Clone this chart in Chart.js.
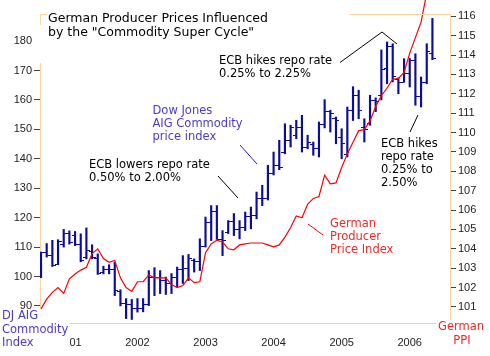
<!DOCTYPE html>
<html><head><meta charset="utf-8">
<script src="https://cdn.jsdelivr.net/npm/chart.js@4"></script>
<style>html,body{margin:0;padding:0;background:#fff}#wrap{width:490px;height:356px}</style>
</head><body><div id="wrap"><canvas id="c" width="490" height="356"></canvas></div>
<script>
// ---- data ----
const months = [
'2000-08','2000-09','2000-10','2000-11','2000-12',
'2001-01','2001-02','2001-03','2001-04','2001-05','2001-06','2001-07','2001-08','2001-09','2001-10','2001-11','2001-12',
'2002-01','2002-02','2002-03','2002-04','2002-05','2002-06','2002-07','2002-08','2002-09','2002-10','2002-11','2002-12',
'2003-01','2003-02','2003-03','2003-04','2003-05','2003-06','2003-07','2003-08','2003-09','2003-10','2003-11','2003-12',
'2004-01','2004-02','2004-03','2004-04','2004-05','2004-06','2004-07','2004-08','2004-09','2004-10','2004-11','2004-12',
'2005-01','2005-02','2005-03','2005-04','2005-05','2005-06','2005-07','2005-08','2005-09','2005-10','2005-11','2005-12',
'2006-01','2006-02','2006-03','2006-04','2006-05'];
const djOpen = [99.6,108.3,107.0,104.0,111.0,114.5,114.0,111.0,106.5,108.5,
106.0,101.5,102.3,102.3,95.0,90.8,90.5,89.0,89.0,90.5,
99.5,99.7,98.5,97.5,99.5,102.5,102.6,105.5,105.2,110.3,
118.5,122.2,112.6,115.0,118.8,116.0,116.8,120.4,120.7,126.4,
126.4,134.9,137.8,142.0,146.3,148.0,150.8,144.0,145.0,143.4,
151.5,155.9,153.6,147.4,141.5,156.5,161.6,150.5,152.0,159.9,
161.6,170.6,178.0,167.0,166.0,169.0,173.5,161.0,166.0,175.7];
const djHigh = [108.3,111.2,112.3,112.5,116.0,115.5,115.3,114.5,116.5,110.8,
107.7,103.5,104.0,104.8,95.5,92.5,92.2,92.5,92.5,102.0,
103.0,102.0,99.8,101.0,103.2,107.1,107.5,106.0,112.8,120.2,
124.1,124.1,115.6,119.0,121.4,119.0,121.9,123.6,128.7,131.0,
137.8,142.3,146.3,151.9,151.4,153.1,154.8,148.0,145.7,152.5,
160.1,156.5,154.2,150.2,157.6,164.5,163.3,153.6,161.6,160.7,
177.0,179.7,179.1,167.5,174.0,174.1,175.7,167.8,179.1,187.7];
const djLow = [99.6,106.6,103.4,104.0,110.0,111.0,110.5,105.0,106.0,106.0,
100.7,100.9,100.9,93.5,90.0,85.7,85.4,87.9,88.0,90.1,
93.5,94.2,93.9,94.2,96.4,97.6,98.6,101.5,102.0,110.0,
112.2,112.6,107.1,114.6,113.9,112.8,115.6,116.2,119.6,124.1,
126.0,134.5,136.3,141.7,144.0,146.8,142.3,143.4,141.2,140.6,
150.5,149.1,145.1,140.0,140.6,153.0,153.6,145.7,151.4,156.0,
160.0,165.5,166.1,162.1,166.0,164.4,158.2,157.6,165.5,173.7];
const djClose = [108.3,107.0,103.8,112.0,114.5,111.5,111.0,105.5,109.0,106.5,
101.0,102.3,102.3,95.2,90.8,90.5,89.0,89.0,90.5,99.5,
99.7,98.5,97.5,99.5,102.5,102.6,106.0,105.2,110.3,118.5,
122.2,112.6,112.2,118.8,116.0,116.8,120.4,120.7,126.4,126.4,
134.9,137.8,137.2,146.3,150.8,150.8,144.0,145.7,143.4,151.5,
155.9,155.5,153.1,145.1,156.5,161.6,156.5,149.9,159.9,159.3,
170.5,178.0,167.8,166.0,169.0,173.5,161.0,166.0,176.3,174.1];
const germanPPI = [100.9,101.4,101.75,102.0,101.7,102.45,102.7,102.9,103.05,103.75,
104.0,103.5,103.3,103.4,102.5,102.0,101.8,102.3,102.3,102.65,
102.5,102.5,102.5,102.15,102.0,102.1,102.5,102.25,102.3,103.8,
104.25,104.45,104.35,104.0,103.95,104.2,104.25,104.3,104.3,104.3,
104.2,104.1,104.2,104.6,105.1,105.7,105.6,106.3,106.6,106.7,
107.8,107.35,107.4,108.2,108.9,109.5,110.1,110.15,110.6,111.35,
111.9,112.3,112.75,112.8,113.1,114.1,114.9,115.7,117.2];
const leftTicks = [90,100,110,120,130,140,150,160,170,180];
const rightTicks = [101,102,103,104,105,106,107,108,109,110,111,112,113,114,115,116];
const yearLabels = ['2001','2002','2003','2004','2005','2006'];

// ---- styles ----
const AX = '#FFD49A';
const BAR = '#0C0C9C';
const RED = '#FF0000';
const BLUE_TXT = '#4A3CC4';
const RED_TXT = '#F02828';
const yearIdx = months.map((m,i)=>m.endsWith('-01')?i:-1).filter(i=>i>=0);

function tickImg(side){
  const c=document.createElement('canvas'); c.width=7; c.height=1;
  const g=c.getContext('2d'); g.fillStyle=BAR; g.fillRect(side==='L'?0:4,0,3,1); return c;
}
const imgL = tickImg('L'), imgR = tickImg('R');

const overlay = {
  id:'overlay',
  afterDraw(chart){
    const ctx=chart.ctx, a=chart.chartArea;
    ctx.save();
    ctx.strokeStyle=AX; ctx.lineWidth=1;
    ctx.beginPath(); ctx.moveTo(a.left, Math.round(a.top)+0.5); ctx.lineTo(a.right, Math.round(a.top)+0.5); ctx.stroke();
    ctx.fillStyle='#fff';
    ctx.fillRect(47,0,303,40);
    ctx.fillRect(33,25,9,38);
    ctx.fillRect(0,309,69.5,47);
    ctx.fillRect(436,320,54,36);
    ctx.textBaseline='middle'; ctx.textAlign='left';
    ctx.fillStyle='#000';
    ctx.font='12.5px "DejaVu Sans"';
    ctx.fillText('German Producer Prices Influenced',48,18.5);
    ctx.fillText('by the "Commodity Super Cycle"',48,33);
    ctx.font='11.5px "DejaVu Sans"';
    ctx.fillText('ECB hikes repo rate',219,61);
    ctx.fillText('0.25% to 2.25%',219,74.5);
    ctx.fillText('ECB lowers repo rate',89,165);
    ctx.fillText('0.50% to 2.00%',89,178.5);
    ['ECB hikes','repo rate','0.25% to','2.50%'].forEach((t,i)=>ctx.fillText(t,381,144.5+i*13));
    ctx.fillStyle=BLUE_TXT;
    ['Dow Jones','AIG Commodity','price index'].forEach((t,i)=>ctx.fillText(t,152.5,111+i*13));
    ['DJ AIG','Commodity','Index'].forEach((t,i)=>ctx.fillText(t,2,316.5+i*13.2));
    ctx.fillStyle=RED_TXT;
    ['German','Producer','Price Index'].forEach((t,i)=>ctx.fillText(t,330,224+i*13));
    ctx.textAlign='center';
    ctx.fillText('German',461,327.5); ctx.fillText('PPI',462,341.5);
    // pointer lines
    ctx.lineWidth=1;
    ctx.strokeStyle='#000';
    ctx.beginPath(); ctx.moveTo(340,62.5); ctx.lineTo(382,32); ctx.lineTo(397,44); ctx.stroke();
    ctx.beginPath(); ctx.moveTo(218,176); ctx.lineTo(238,198); ctx.stroke();
    ctx.beginPath(); ctx.moveTo(418,115); ctx.lineTo(410,132); ctx.stroke();
    ctx.strokeStyle='#2020B0';
    ctx.beginPath(); ctx.moveTo(240,145); ctx.lineTo(257,164); ctx.stroke();
    ctx.strokeStyle=RED;
    ctx.beginPath(); ctx.moveTo(308,224); ctx.lineTo(323,235); ctx.stroke();
    ctx.restore();
  }
};

const tickFont = {family:'"Liberation Sans", Arial, sans-serif', size:11};
new Chart(document.getElementById('c'), {
  type:'bar',
  data:{datasets:[
    {type:'bar', label:'range', data:months.map((m,i)=>({x:i,y:[djLow[i],djHigh[i]]})),
     backgroundColor:BAR, borderWidth:0, barThickness:1.5, yAxisID:'y', order:2},
    {type:'line', label:'open', data:months.map((m,i)=>({x:i,y:djOpen[i]})), showLine:false,
     pointStyle:imgL, pointRadius:3, yAxisID:'y', order:1},
    {type:'line', label:'close', data:months.map((m,i)=>({x:i,y:djClose[i]})), showLine:false,
     pointStyle:imgR, pointRadius:3, yAxisID:'y', order:1},
    {type:'line', label:'German PPI', data:germanPPI.map((v,i)=>({x:i,y:v})), borderColor:RED,
     borderWidth:1.2, pointRadius:0, tension:0, yAxisID:'y2', clip:false, order:0}
  ]},
  options:{
    responsive:false, animation:false, devicePixelRatio:1, events:[],
    layout:{padding:{top:14,left:0,right:0,bottom:0}},
    plugins:{legend:{display:false}, tooltip:{enabled:false}},
    scales:{
      x:{type:'linear', min:-0.18, max:72.1, offset:false,
         grid:{display:false}, border:{display:true,color:AX,width:1},
         afterBuildTicks:s=>{s.ticks=yearIdx.map(v=>({value:v}));},
         ticks:{font:tickFont,color:'#222',padding:5,maxRotation:0,autoSkip:false,
                callback:(v)=>yearLabels[yearIdx.indexOf(v)]},
         afterFit:s=>{s.height=33;}},
      y:{type:'linear', position:'left', min:84.2, max:189.2,
         afterBuildTicks:s=>{s.ticks=leftTicks.map(v=>({value:v}));},
         grid:{drawOnChartArea:false, drawTicks:true, tickLength:6, tickColor:'#444'},
         border:{display:true,color:AX,width:1},
         ticks:{font:tickFont,color:'#222',padding:2},
         afterFit:s=>{s.width=40;}},
      y2:{type:'linear', position:'right', min:100.17, max:116.12,
         afterBuildTicks:s=>{s.ticks=rightTicks.map(v=>({value:v}));},
         grid:{drawOnChartArea:false, drawTicks:true, tickLength:6, tickColor:'#444'},
         border:{display:true,color:AX,width:1},
         ticks:{font:tickFont,color:'#222',padding:2},
         afterFit:s=>{s.width=40;}}
    }
  },
  plugins:[overlay]
});
</script>
</body></html>
